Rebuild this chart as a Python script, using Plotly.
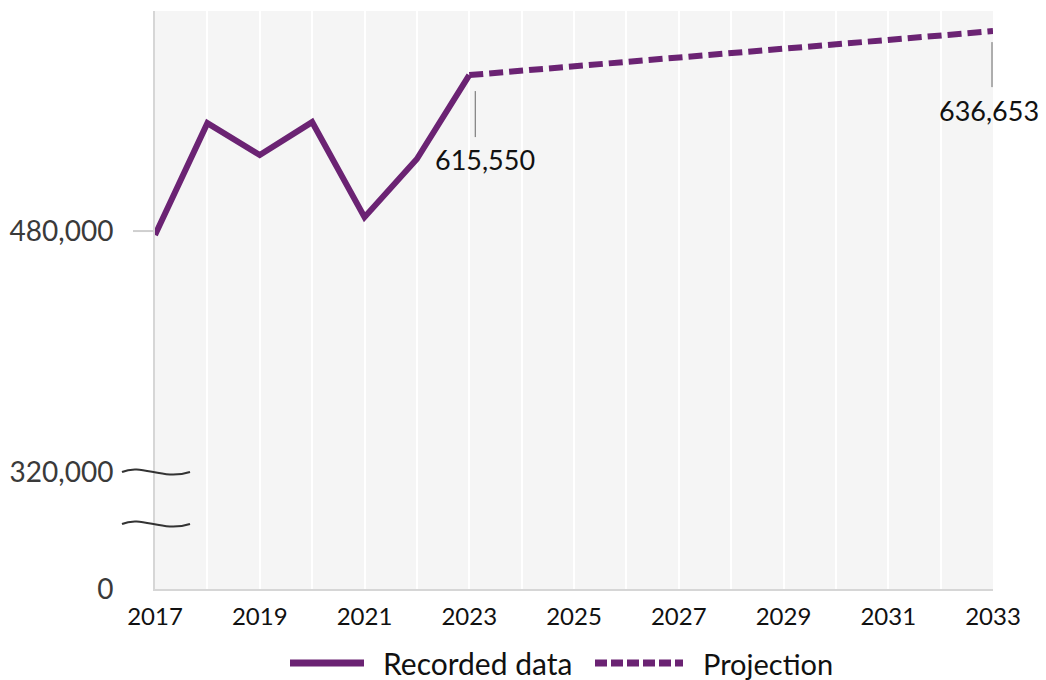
import plotly.graph_objects as go

# ---------------- data ----------------
recorded_years = [2017, 2018, 2019, 2020, 2021, 2022, 2023]
recorded_values = [538800, 592500, 577200, 593000, 547400, 575300, 615550]
projection_years = [2023, 2033]
projection_values = [615550, 636653]

x_tick_years = [2017, 2019, 2021, 2023, 2025, 2027, 2029, 2031, 2033]
# broken y axis: labels and their display positions on the axis
y_tick_text = ["0", "320,000", "480,000"]
y_tick_pos = [369000, 425150, 540730]
y_range = [369000, 646300]

legend_labels = ["Recorded data", "Projection"]

PURPLE = "#6b2373"
FONT = "Lato"

W, H = 1046, 680
L, R, T, B = 155, 53, 11, 91
PW, PH = W - L - R, H - T - B


def px(x):
    return (x - L) / PW


def py(y):
    return (H - B - y) / PH


fig = go.Figure()
fig.add_trace(go.Scatter(
    x=recorded_years, y=recorded_values, mode="lines", name=legend_labels[0],
    line=dict(color=PURPLE, width=6), showlegend=False, cliponaxis=False,
))
fig.add_trace(go.Scatter(
    x=projection_years, y=projection_values, mode="lines", name=legend_labels[1],
    line=dict(color=PURPLE, width=6, dash="14px,6px"), showlegend=False, cliponaxis=False,
))

shapes = []
# tick mark at 480,000
shapes.append(dict(type="line", xref="paper", yref="y", x0=px(133), x1=px(154),
                   y0=y_tick_pos[2], y1=y_tick_pos[2], line=dict(color="#cfcfcf", width=2)))


def wave(ycen):
    x0, x1 = 122, 190
    pts = [(x0, ycen), (x0 + 20, ycen - 9), (x0 + 40, ycen + 9), (x1, ycen)]
    return ("M {:.5f},{:.5f} C {:.5f},{:.5f} {:.5f},{:.5f} {:.5f},{:.5f}".format(
        px(pts[0][0]), py(pts[0][1]), px(pts[1][0]), py(pts[1][1]),
        px(pts[2][0]), py(pts[2][1]), px(pts[3][0]), py(pts[3][1])))


for yc in (472, 524):
    shapes.append(dict(type="path", xref="paper", yref="paper", path=wave(yc),
                       line=dict(color="#333333", width=2)))

# leader lines for the value labels (anchored to the data points, offsets in pixels)
leaders = [(projection_years[0], projection_values[0], 6, -16, -62),
           (projection_years[1], projection_values[1], -1, -11, -56)]
for xa, ya, dx, y0, y1 in leaders:
    shapes.append(dict(type="line", xref="x", yref="y", xsizemode="pixel", ysizemode="pixel",
                       xanchor=xa, yanchor=ya, x0=dx, x1=dx, y0=y0, y1=y1,
                       line=dict(color="#666666", width=1)))

# custom legend
ly = py(663)
shapes.append(dict(type="line", xref="paper", yref="paper", x0=px(290), x1=px(364), y0=ly, y1=ly,
                   line=dict(color=PURPLE, width=7)))
shapes.append(dict(type="line", xref="paper", yref="paper", x0=px(595), x1=px(683), y0=ly, y1=ly,
                   line=dict(color=PURPLE, width=7, dash="12px,4px")))

annotations = [
    dict(xref="paper", yref="paper", x=px(381), y=ly, text=legend_labels[0], showarrow=False,
         xanchor="left", yanchor="middle", font=dict(family=FONT, size=30, color="#111111")),
    dict(xref="paper", yref="paper", x=px(701), y=ly, text=legend_labels[1], showarrow=False,
         xanchor="left", yanchor="middle", font=dict(family=FONT, size=29, color="#111111")),
    dict(x=projection_years[0], y=projection_values[0], text=f"{projection_values[0]:,}",
         showarrow=False, xshift=16, yshift=-84, xanchor="center", yanchor="middle",
         font=dict(family=FONT, size=27, color="#111111")),
    dict(x=projection_years[1], y=projection_values[1], text=f"{projection_values[1]:,}",
         showarrow=False, xshift=-4, yshift=-79, xanchor="center", yanchor="middle",
         font=dict(family=FONT, size=27, color="#111111")),
]

fig.update_layout(
    width=W, height=H,
    margin=dict(l=L, r=R, t=T, b=B, autoexpand=False),
    paper_bgcolor="white", plot_bgcolor="#f5f5f5",
    font=dict(family=FONT, size=24, color="#111111"),
    shapes=shapes, annotations=annotations,
    xaxis=dict(range=[2017, 2033], tickvals=x_tick_years, showgrid=True, gridcolor="white",
               gridwidth=2, minor=dict(dtick=1, tick0=2017, showgrid=True, gridcolor="white",
                                       gridwidth=2),
               showline=True, linecolor="#d6d6d6", linewidth=2, ticks="", zeroline=False,
               tickfont=dict(family=FONT, size=24, color="#111111"), ticklabelstandoff=5,
               fixedrange=True, automargin=False),
    yaxis=dict(range=y_range, tickvals=y_tick_pos, ticktext=y_tick_text, showgrid=False,
               showline=True, linecolor="#d6d6d6", linewidth=2, ticks="", zeroline=False,
               tickfont=dict(family=FONT, size=28, color="#3a3a3a"), ticklabelstandoff=34,
               fixedrange=True, automargin=False),
)

fig.write_html("out.html", config={"displayModeBar": False},
               post_script="document.body.style.margin='0px';")
